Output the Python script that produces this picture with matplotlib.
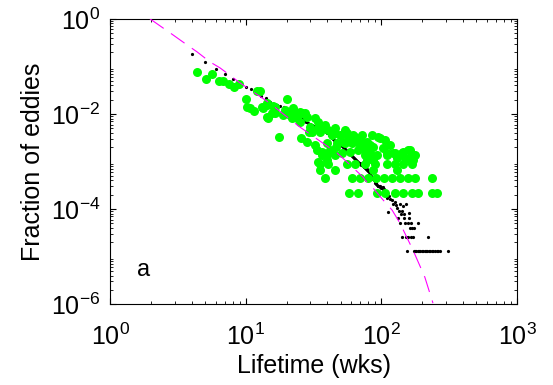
import matplotlib
matplotlib.use("Agg")
import matplotlib.pyplot as plt
from matplotlib.ticker import LogLocator, NullFormatter

plt.rcParams["font.family"] = ["Liberation Sans", "DejaVu Sans"]

# black: one point per lifetime (weeks) -> fraction of eddies
black_weeks = list(range(4, 101)) + [
    101, 102, 103, 104, 105, 106, 107, 108, 110, 111, 113, 116, 120, 122, 125,
    128, 130, 132, 134, 137, 138, 140, 142, 143, 144, 146, 148, 149, 151, 153,
    154, 156, 158, 160, 161, 162, 164, 166, 169, 171, 173, 174, 177, 181, 185,
    186, 190, 194, 199, 203, 208, 213, 218, 220, 224, 230, 236, 242, 249, 256,
    263, 270, 310,
]
black_frac = [
    0.183, 0.124, 0.089, 0.070, 0.055, 0.045, 0.037, 0.034, 0.028, 0.024,
    0.022, 0.018, 0.0165, 0.0155, 0.0145, 0.0138, 0.0125, 0.0115, 0.0105, 0.0096,
    0.0088, 0.0081, 0.0077, 0.0072, 0.0068, 0.0064, 0.0061, 0.0058, 0.0056, 0.0053,
    0.0051, 0.0049, 0.0047, 0.0045, 0.0043, 0.0041, 0.0039, 0.0036, 0.0034, 0.0031,
    0.0030, 0.0028, 0.0027, 0.0025, 0.0024, 0.0023, 0.0022, 0.0021, 0.0020, 0.0019,
    0.0018, 0.00175, 0.00168, 0.0016, 0.00152, 0.00145, 0.0014, 0.00133, 0.00127, 0.0012,
    0.00115, 0.0011, 0.00104, 0.00099, 0.00095, 0.00092, 0.00089, 0.00086, 0.00083, 0.0008,
    0.00078, 0.00075, 0.00072, 0.0007, 0.00068, 0.00066, 0.00064, 0.0006, 0.00057, 0.00054,
    0.0005, 0.00048, 0.00045, 0.00043, 0.0004, 0.00038, 0.00036, 0.00035, 0.00033, 0.00032,
    0.00031, 0.00031, 0.0003, 0.00029, 0.0003, 0.00029, 0.00028,
    2.8e-4, 2.9e-4, 2.7e-4, 2.6e-4, 2.5e-4, 2.4e-4, 2.2e-4, 2.0e-4, 1.7e-4, 8.7e-5,
    1.9e-4, 1.6e-4, 1.55e-4, 1.3e-4, 1.4e-4, 1.2e-4, 1.05e-4, 6.5e-5, 9.1e-5, 1.3e-4,
    5.2e-5, 7.8e-5, 9.1e-5, 2.6e-5, 1.17e-4, 6.5e-5, 7.8e-5, 5.2e-5, 2.6e-5, 1.3e-4,
    1.3e-5, 5.2e-5, 2.6e-5, 6.5e-5, 8.2e-5, 3.9e-5, 2.6e-5, 5.2e-5, 3.9e-5, 2.6e-5,
    3.9e-5, 1.3e-5, 1.3e-5, 1.3e-5, 5.2e-5, 1.3e-5, 1.3e-5, 1.3e-5, 1.3e-5, 1.3e-5,
    1.3e-5, 1.3e-5, 1.3e-5, 2.6e-5, 1.3e-5, 1.3e-5, 1.3e-5, 1.3e-5, 1.3e-5, 1.3e-5,
    1.3e-5, 1.3e-5, 1.3e-5,
]

# green: second data set
green_weeks = [
    4.38, 5.10, 5.65, 6.36, 6.80, 7.53, 8.2, 8.93, 10.05, 10.8,
    11.5, 12.1, 12.7, 13.4, 14.6, 15.8, 16.4, 17.6, 20.2, 18.8,
    21.9, 23.1, 25.1, 27.3, 32.4, 25.5, 28.3, 29.3, 35.3, 40.4,
    39.7, 13.1, 14.4, 10.2, 15.6, 21.2, 26.0, 25.1, 28.3, 29.8,
    30.8, 35.3, 43.3, 49.5, 55.8, 61.8, 72.0, 85.3, 97.7, 32.4,
    36.5, 41.8, 47.1, 52.1, 60.7, 67.2, 78.3, 86.7, 103, 36.5,
    39.7, 45.5, 51.2, 58.7, 67.2, 75.7, 82.4, 92.8, 110, 126,
    144, 157, 168, 130, 149, 170, 35.3, 40.4, 55.8, 63.9,
    75.7, 89.7, 110, 126, 144, 168, 35.3, 45.5, 86.7, 38.4,
    60.7, 69.6, 79.6, 91.2, 104, 120, 137, 157, 177, 236,
    57.5, 67.2, 92.8, 106, 126, 144, 168, 186, 236, 257,
    45.5, 56.7, 63.9, 94.4, 53.9, 73.2, 82.4, 75.7, 78.3, 122,
    142, 162, 130, 86.7, 14.4, 16.4, 14.4, 23.9, 34.1, 37.1,
    39.7, 34.1, 110, 162, 177, 19.5, 22.5, 34.1, 38.4, 45.5,
    53.9, 46.3, 33.5, 69.6, 106, 116,
]
green_frac = [
    0.0767, 0.0546, 0.0697, 0.0495, 0.0495, 0.0428, 0.0370, 0.0428, 0.0207, 0.0134,
    0.0116, 0.0305, 0.0305, 0.0134, 0.00823, 0.0147, 0.0105, 0.00328, 0.0207, 0.00953,
    0.00823, 0.0110, 0.0110, 0.0105, 0.00823, 0.00312, 0.00258, 0.00419, 0.00419, 0.0046,
    0.00246, 0.0141, 0.0155, 0.0141, 0.0105, 0.00953, 0.0105, 0.0068, 0.00865, 0.00533,
    0.00419, 0.00508, 0.00361, 0.00361, 0.00399, 0.00361, 0.00361, 0.00361, 0.00312, 0.00223,
    0.00159, 0.00175, 0.00246, 0.00258, 0.00246, 0.00258, 0.00258, 0.00203, 0.00193, 0.00137,
    0.00137, 0.00137, 0.00152, 0.00159, 0.00175, 0.00137, 0.00152, 0.00137, 0.00152, 0.00152,
    0.00159, 0.00175, 0.00137, 0.00119, 0.00119, 0.00108, 8.8e-4, 8.8e-4, 8.8e-4, 8.8e-4,
    8.8e-4, 8.8e-4, 8.8e-4, 8.8e-4, 8.8e-4, 8.8e-4, 6.6e-4, 6.6e-4, 6.6e-4, 4.4e-4,
    4.4e-4, 4.4e-4, 4.4e-4, 4.4e-4, 4.4e-4, 4.4e-4, 4.4e-4, 4.4e-4, 4.4e-4, 4.4e-4,
    2.2e-4, 2.2e-4, 2.2e-4, 2.2e-4, 2.2e-4, 2.2e-4, 2.2e-4, 2.2e-4, 2.2e-4, 2.2e-4,
    0.00399, 0.00328, 0.00328, 0.00328, 0.00246, 0.00246, 0.00223, 0.00175, 0.00108, 0.00152,
    0.00152, 0.00108, 6.6e-4, 0.00108, 0.0171, 0.0141, 0.00865, 0.00823, 0.00508, 0.00152,
    0.00108, 0.00098, 0.00137, 0.00175, 0.00137, 0.0121, 0.0134, 0.0068, 0.00587, 0.00508,
    0.0046, 0.00203, 0.00175, 0.00203, 0.00284, 0.00223,
]

# magenta dashed fit
fit_weeks = [1.97, 2.91, 3.69, 4.38, 5.46, 6.47, 9.08, 14.6, 25.1, 47.1,
             55.8, 73.2, 75.7, 86.7, 103, 120, 137, 171, 209, 240]
fit_frac = [1.0, 0.46, 0.284, 0.202, 0.124, 0.093, 0.045, 0.0179, 0.0053, 0.00151,
            9.76e-4, 4.7e-4, 4.08e-4, 2.77e-4, 1.55e-4, 9.5e-5, 5.07e-5, 1.37e-5, 3.7e-6, 1.05e-6]


def main() -> None:
    fig = plt.figure(figsize=(5.53, 3.85), dpi=100)
    ax = fig.add_axes([0.199, 0.21, 0.736, 0.741])

    ax.plot(black_weeks, black_frac, "o", color="black", ms=2.3, mec="none", zorder=2)
    ax.plot(green_weeks, green_frac, "o", color="#00ff00", ms=6.5, mec="none", zorder=3)
    ax.plot(fit_weeks, fit_frac, color="#ff00ff", lw=0.8, linestyle=(0, (15, 8)), zorder=4)

    ax.set_xscale("log")
    ax.set_yscale("log")
    ax.set_xlim(1, 1000)
    ax.set_ylim(1e-6, 1)
    ax.set_xticks([1, 10, 100, 1000])
    ax.set_yticks([1e-6, 1e-4, 1e-2, 1])
    ax.xaxis.set_minor_locator(LogLocator(base=10, subs=range(2, 10)))
    ax.yaxis.set_minor_locator(LogLocator(base=10, subs=range(2, 10), numticks=20))
    ax.xaxis.set_minor_formatter(NullFormatter())
    ax.yaxis.set_minor_formatter(NullFormatter())

    ax.tick_params(which="both", direction="in", top=True, right=True, labelsize=18)
    ax.tick_params(which="major", length=4, width=0.8)
    ax.tick_params(which="minor", length=2, width=0.6)
    ax.tick_params(axis="x", pad=14)
    ax.tick_params(axis="y", pad=7)
    for s in ax.spines.values():
        s.set_linewidth(0.8)

    ax.set_xlabel("Lifetime (wks)", fontsize=18, labelpad=3)
    ax.set_ylabel("Fraction of eddies", fontsize=18, labelpad=4)
    ax.text(0.065, 0.12, "a", transform=ax.transAxes, fontsize=17, va="center")

    fig.savefig("out.png", dpi=100)
    plt.close(fig)


if __name__ == "__main__":
    main()
